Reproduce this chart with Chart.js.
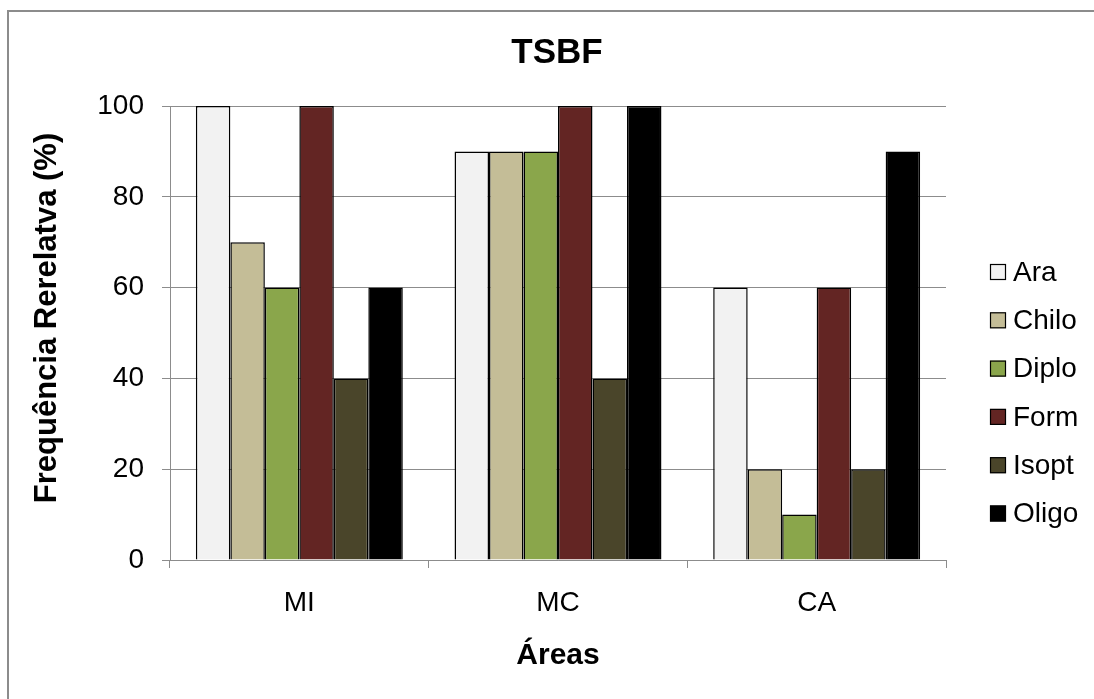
<!DOCTYPE html>
<html lang="pt">
<head>
<meta charset="utf-8">
<title>TSBF</title>
<script src="https://cdn.jsdelivr.net/npm/chart.js@4.4.1/dist/chart.umd.min.js"></script>
<style>
  html, body { margin: 0; padding: 0; background: #ffffff; overflow: hidden; }
  #frame {
    position: absolute; left: 7px; top: 10px;
    width: 1096px; height: 687px;
    border-left: 2px solid #8c8c8c; border-top: 2px solid #8c8c8c;
  }
  #chart { display: block; }
</style>
</head>
<body>
<div id="frame"><canvas id="chart" width="1096" height="687"></canvas></div>
<script>
// Áreas amostradas
const categories = ['MI', 'MC', 'CA'];

// Frequência relativa (%) de cada grupo por área
const seriesNames = ['Ara', 'Chilo', 'Diplo', 'Form', 'Isopt', 'Oligo'];
const ara   = [100, 90, 60];
const chilo = [70, 90, 20];
const diplo = [60, 90, 10];
const form  = [100, 100, 60];
const isopt = [40, 40, 20];
const oligo = [60, 100, 90];

// Eixo Y
const yMin = 0;
const yMax = 100;
const yStep = 20;
const yTitle = 'Frequência Rerelatva (%)';

const seriesValues = [ara, chilo, diplo, form, isopt, oligo];
const seriesColors = ['#f2f2f2', '#c4bd97', '#8aa64b', '#632523', '#4a452a', '#000000'];

const FONT = "'Liberation Sans', Arial, sans-serif";
const GRID = '#8c8c8c';

// Legenda desenhada à direita da área do gráfico
const sideLegend = {
  id: 'sideLegend',
  afterDraw(chart) {
    const ctx = chart.ctx;
    const area = chart.chartArea;
    const boxSize = 16;
    const x = area.right + 44;
    const firstRow = 260;
    const rowGap = 48.3;
    ctx.save();
    ctx.font = '28px ' + FONT;
    ctx.textBaseline = 'middle';
    ctx.textAlign = 'left';
    chart.data.datasets.forEach((ds, i) => {
      const cy = firstRow + i * rowGap;
      ctx.fillStyle = ds.backgroundColor;
      ctx.fillRect(x, cy - boxSize / 2, boxSize, boxSize);
      ctx.lineWidth = 1.2;
      ctx.strokeStyle = '#000000';
      ctx.strokeRect(x + 0.5, cy - boxSize / 2 + 0.5, boxSize - 1, boxSize - 1);
      ctx.fillStyle = '#000000';
      ctx.fillText(ds.label, x + boxSize + 7, cy + 1);
    });
    ctx.restore();
  }
};

// Título do eixo Y, rotacionado, um pouco acima do centro da área
const yAxisTitle = {
  id: 'yAxisTitle',
  afterDraw(chart) {
    const ctx = chart.ctx;
    const area = chart.chartArea;
    ctx.save();
    ctx.translate(38, (area.top + area.bottom) / 2 - 15);
    ctx.rotate(-Math.PI / 2);
    ctx.font = 'bold 31px ' + FONT;
    ctx.fillStyle = '#000000';
    ctx.textAlign = 'center';
    ctx.textBaseline = 'middle';
    ctx.fillText(yTitle, 0, 0);
    ctx.restore();
  }
};

new Chart(document.getElementById('chart'), {
  type: 'bar',
  data: {
    labels: categories,
    datasets: seriesNames.map((name, i) => ({
      label: name,
      data: seriesValues[i],
      backgroundColor: seriesColors[i],
      borderColor: '#000000',
      borderWidth: 1.5,
      categoryPercentage: 0.8,
      barPercentage: 1.0
    }))
  },
  options: {
    responsive: false,
    animation: false,
    devicePixelRatio: 1,
    layout: { padding: 0 },
    plugins: {
      legend: { display: false },
      tooltip: { enabled: false },
      title: {
        display: true,
        text: 'TSBF',
        color: '#000000',
        font: { family: FONT, size: 35, weight: 'bold' },
        padding: { top: 20, bottom: 32 }
      }
    },
    scales: {
      x: {
        offset: true,
        grid: {
          display: true,
          drawOnChartArea: false,
          drawTicks: true,
          tickLength: 8,
          color: GRID,
          offset: true
        },
        border: { display: true, color: GRID, width: 1 },
        ticks: {
          color: '#000000',
          font: { family: FONT, size: 28 },
          padding: 18
        },
        title: {
          display: true,
          text: 'Áreas',
          color: '#000000',
          font: { family: FONT, size: 30, weight: 'bold' },
          padding: { top: 0, bottom: 25 }
        },
        afterFit(scale) { scale.height = 139; }
      },
      y: {
        min: yMin,
        max: yMax,
        grid: {
          color: GRID,
          lineWidth: 1,
          tickLength: 8,
          drawTicks: true
        },
        border: { display: true, color: GRID, width: 1 },
        ticks: {
          stepSize: yStep,
          color: '#000000',
          font: { family: FONT, size: 28 },
          padding: 18
        },
        title: { display: false },
        afterFit(scale) { scale.width = 161; }
      },
      // faixa vazia à direita reservada para a legenda
      legendSpace: {
        type: 'linear',
        position: 'right',
        display: true,
        grid: { display: false },
        border: { display: false },
        ticks: { display: false },
        afterFit(scale) { scale.width = 159; }
      }
    }
  },
  plugins: [sideLegend, yAxisTitle]
});
</script>
</body>
</html>
